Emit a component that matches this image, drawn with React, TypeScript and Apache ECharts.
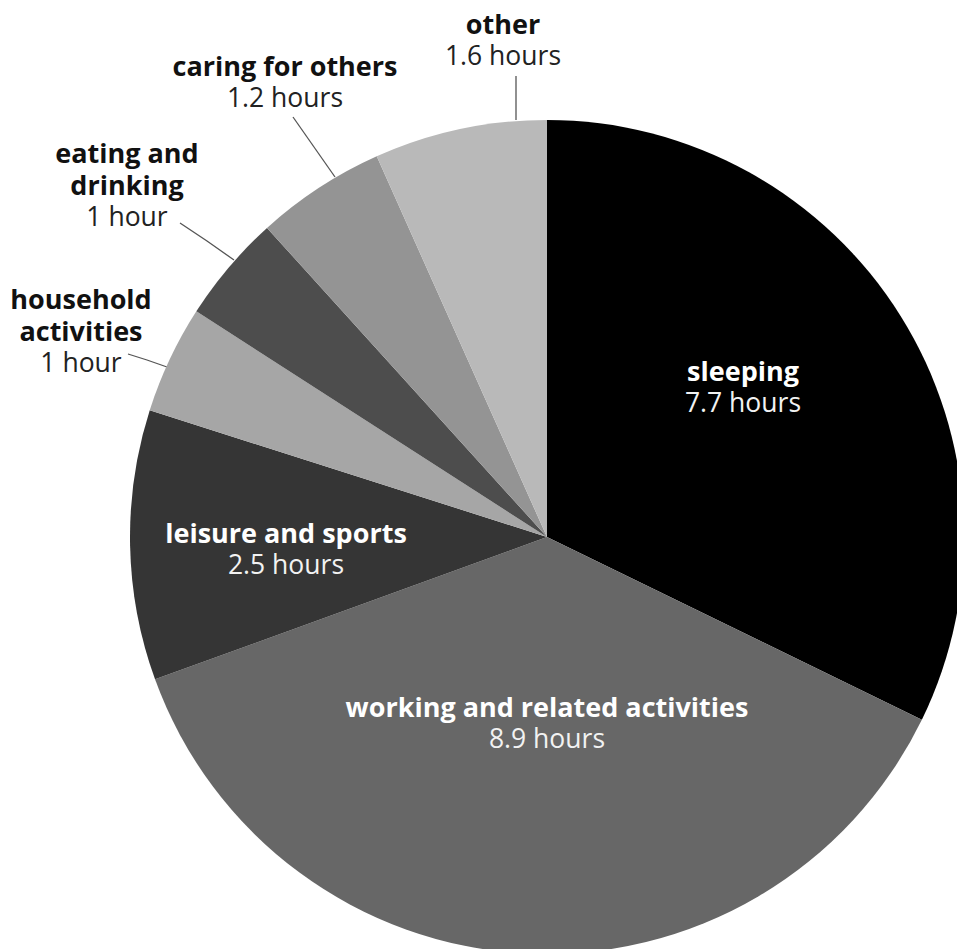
import React, { useEffect, useRef } from "react";
import * as echarts from "echarts";

const categories = [
  "sleeping",
  "working and related activities",
  "leisure and sports",
  "household activities",
  "eating and drinking",
  "caring for others",
  "other",
];
const hours = [7.7, 8.9, 2.5, 1, 1, 1.2, 1.6];
const labelNames = [
  "sleeping",
  "working and related activities",
  "leisure and sports",
  "household\nactivities",
  "eating and\ndrinking",
  "caring for others",
  "other",
];
const sliceColors = ["#000000", "#676767", "#353535", "#a6a6a6", "#4d4d4d", "#949494", "#b9b9b9"];
const insideLabel = [true, true, true, false, false, false, false];

// label placement (layout only)
const labelPos: [number, number][] = [
  [743, 386],
  [547, 722],
  [286, 548],
  [81, 330],
  [127, 184],
  [285, 81],
  [503, 39],
];
const linePts: ([number, number][] | null)[] = [
  null,
  null,
  null,
  [[128, 354], [147, 360], [167, 367]],
  [[180, 223], [207, 241], [234, 260]],
  [[293, 117], [314, 147], [335, 177]],
  [[516, 76], [516, 98], [516, 120]],
];

const fmtHours = (v: number) => (v === 1 ? "1 hour" : `${v} hours`);

export default function App() {
  const ref = useRef<HTMLDivElement>(null);
  useEffect(() => {
    if (!ref.current) return;
    const chart = echarts.init(ref.current, null, { renderer: "svg" });
    const data = categories.map((c, i) => {
      const inside = insideLabel[i];
      const col = inside ? "#ffffff" : "#111111";
      return {
        name: c,
        value: hours[i],
        itemStyle: { color: sliceColors[i] },
        label: {
          position: inside ? "inside" : "outside",
          formatter: () => {
            const nm = labelNames[i]
              .split("\n")
              .map((s) => `{n|${s}}`)
              .join("\n");
            return `${nm}\n{v|${fmtHours(hours[i])}}`;
          },
          rich: {
            n: {
              fontFamily: "Open Sans",
              fontWeight: "bold",
              fontSize: 27,
              lineHeight: 32,
              color: col,
              align: "center",
            },
            v: {
              fontFamily: "Open Sans",
              fontWeight: "normal",
              fontSize: 26.5,
              lineHeight: 32,
              color: inside ? "#f2f2f2" : "#222222",
              align: "center",
            },
          },
        },
        labelLine: { show: !inside },
      };
    });
    chart.setOption({
      animation: false,
      backgroundColor: "#ffffff",
      series: [
        {
          type: "pie",
          center: [547, 537],
          radius: 417,
          startAngle: 90,
          clockwise: true,
          avoidLabelOverlap: false,
          silent: true,
          data,
          label: { show: true, align: "center" },
          labelLine: {
            show: true,
            lineStyle: { color: "#555555", width: 1.3 },
          },
          labelLayout: (params: any) => {
            const i = params.dataIndex;
            const [x, y] = labelPos[i];
            const o: any = { x, y, align: "center", verticalAlign: "middle", hideOverlap: false };
            if (linePts[i]) o.labelLinePoints = linePts[i];
            return o;
          },
        },
      ],
    });
    return () => chart.dispose();
  }, []);
  return (
    <div
      ref={ref}
      style={{ position: "absolute", left: 0, top: 0, width: 957, height: 949 }}
    />
  );
}
